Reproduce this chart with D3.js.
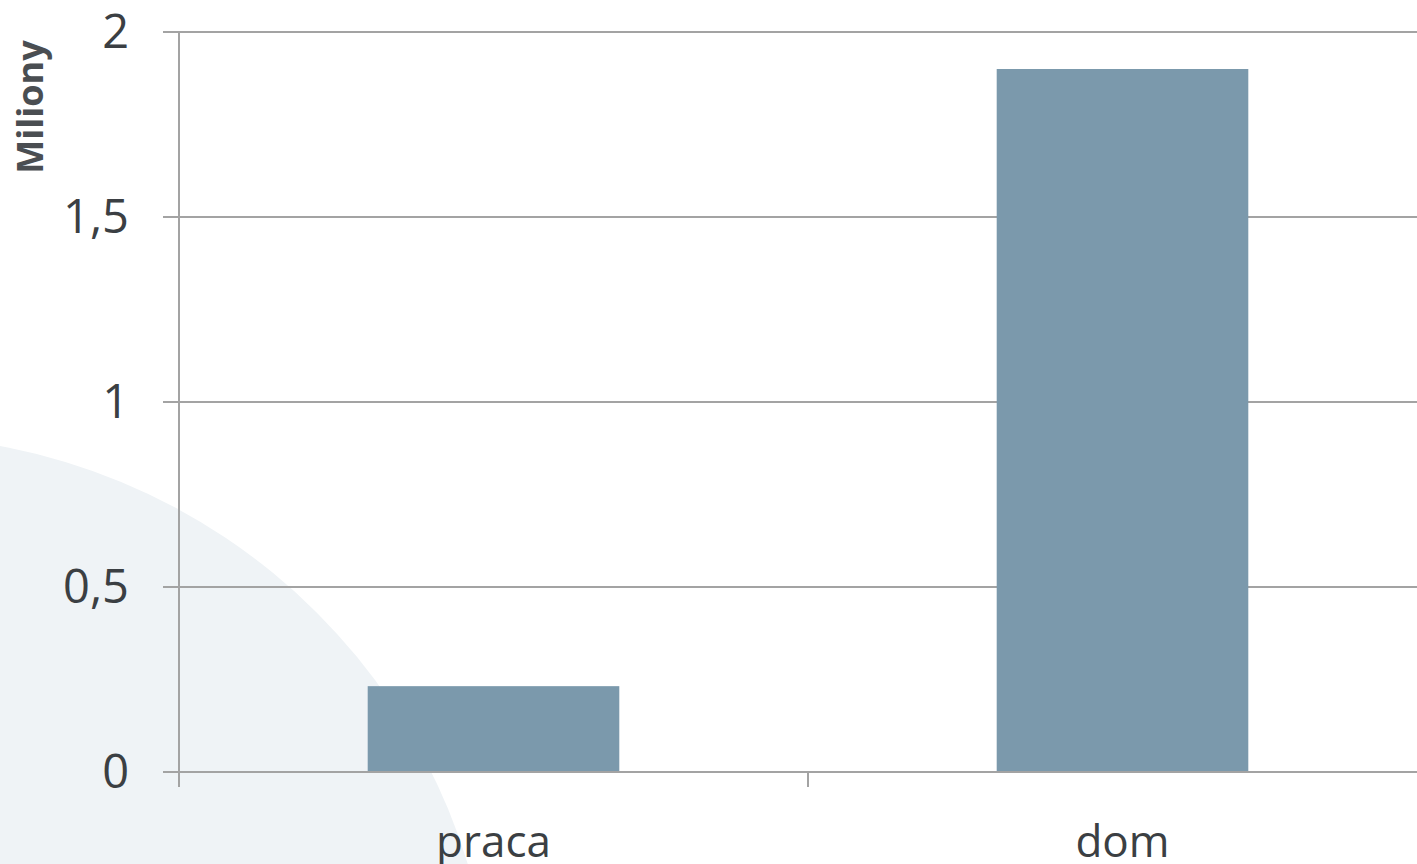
<!DOCTYPE html>
<html><head><meta charset="utf-8">
<script src="https://cdn.jsdelivr.net/npm/d3@7"></script>
<style>html,body{margin:0;padding:0;background:#fff;overflow:hidden}</style>
</head><body>
<svg id="c" width="1417" height="864"></svg>
<script>
const categories = ["praca", "dom"];
const values = [0.232, 1.9];
const yTicks = [0, 0.5, 1, 1.5, 2];
const yTickLabels = ["0", "0,5", "1", "1,5", "2"];
const yTitle = "Miliony";

(function () {
const svg = d3.select("#c");
const W = 1417, H = 864;
const mLeft = 179, mTop = 32, mBottom = 772, mRight = 1437;

// background decorative circle
svg.append("circle").attr("cx", -110).attr("cy", 1040).attr("r", 604).attr("fill", "#eff3f6");

const x = d3.scaleBand().domain(categories).range([mLeft, mRight]).paddingInner(0).paddingOuter(0);
const y = d3.scaleLinear().domain([0, 2]).range([mBottom, mTop]);

const grid = "#a3a3a3";
// gridlines
svg.append("g").selectAll("line").data(yTicks.filter(d => d > 0)).join("line")
  .attr("x1", mLeft - 16).attr("x2", W).attr("y1", d => y(d)).attr("y2", d => y(d))
  .attr("stroke", grid).attr("stroke-width", 2);

// bars
const bw = x.bandwidth() * 0.4;
svg.append("g").selectAll("rect").data(categories).join("rect")
  .attr("x", d => x(d) + (x.bandwidth() - bw) / 2)
  .attr("width", bw)
  .attr("y", (d, i) => y(values[i]))
  .attr("height", (d, i) => y(0) - y(values[i]))
  .attr("fill", "#7b99ac");

// y axis line
svg.append("line").attr("x1", mLeft).attr("x2", mLeft).attr("y1", mTop).attr("y2", mBottom + 15)
  .attr("stroke", grid).attr("stroke-width", 2);
// x axis line
svg.append("line").attr("x1", mLeft - 16).attr("x2", W).attr("y1", y(0)).attr("y2", y(0))
  .attr("stroke", grid).attr("stroke-width", 2);
// x ticks at band boundaries
svg.append("g").selectAll("line").data(categories).join("line")
  .attr("x1", d => x(d)).attr("x2", d => x(d)).attr("y1", mBottom).attr("y2", mBottom + 15)
  .attr("stroke", grid).attr("stroke-width", 2);

// y tick labels
svg.append("g").selectAll("text").data(yTicks).join("text")
  .attr("x", 129).attr("y", d => y(d)).attr("dy", "0.35em")
  .attr("text-anchor", "end")
  .attr("font-family", "'Open Sans', sans-serif").attr("font-size", 47)
  .attr("fill", "#3b3f43")
  .text((d, i) => yTickLabels[i]);

// category labels
svg.append("g").selectAll("text").data(categories).join("text")
  .attr("x", d => x(d) + x.bandwidth() / 2).attr("y", 857)
  .attr("text-anchor", "middle")
  .attr("font-family", "'Open Sans', sans-serif").attr("font-size", 44)
  .attr("fill", "#3b3f43")
  .text(d => d);

// y title
svg.append("text")
  .attr("transform", "translate(43,107) rotate(-90)")
  .attr("text-anchor", "middle")
  .attr("font-family", "'Open Sans', sans-serif").attr("font-size", 36).attr("font-weight", 700)
  .attr("fill", "#4a4e52")
  .text(yTitle);
})();
</script>
</body></html>
